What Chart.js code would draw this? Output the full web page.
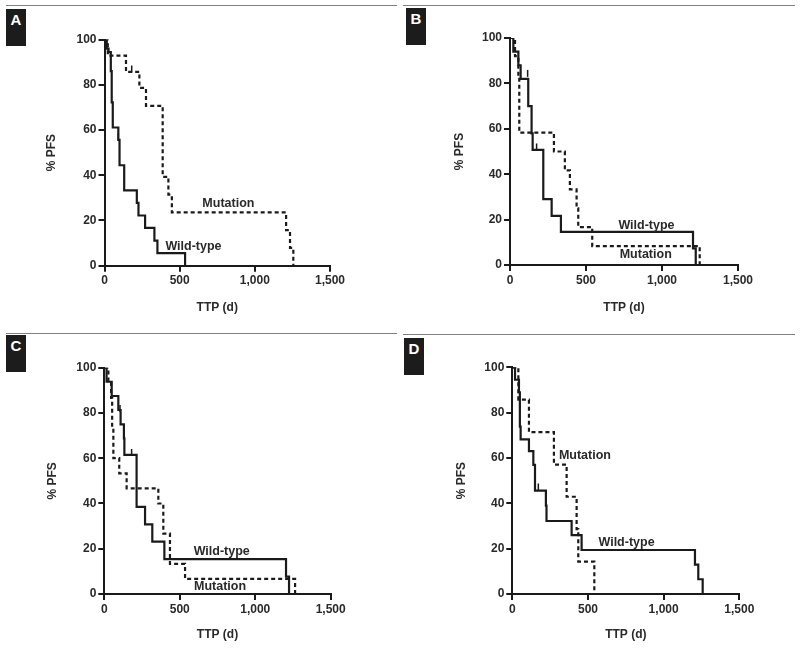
<!DOCTYPE html>
<html>
<head>
<meta charset="utf-8">
<script src="https://cdn.jsdelivr.net/npm/chart.js@4.4.1/dist/chart.umd.min.js"></script>
<style>
  body { margin: 0; background: #fff; width: 800px; height: 648px; position: relative; overflow: hidden;
         font-family: "Liberation Sans", Arial, sans-serif; }
  canvas { position: absolute; }
  .rule { position: absolute; height: 1px; background: #808080; }
  .tag { position: absolute; width: 20px; height: 37px; background: #1c1c1c; color: #fff;
         font-weight: bold; font-size: 15px; text-align: center; line-height: 20px; padding-top: 1px; box-sizing: border-box; }
</style>
</head>
<body>
<div class="rule" style="left:6px;top:5px;width:391px"></div>
<div class="rule" style="left:403px;top:5px;width:392px"></div>
<div class="rule" style="left:6px;top:333px;width:391px"></div>
<div class="rule" style="left:403px;top:334px;width:392px"></div>
<div class="tag" style="left:6px;top:9px">A</div>
<div class="tag" style="left:406px;top:8px">B</div>
<div class="tag" style="left:6px;top:335px">C</div>
<div class="tag" style="left:404px;top:338px">D</div>

<canvas id="chartA" width="400" height="320" style="left:0;top:0"></canvas>
<canvas id="chartB" width="400" height="320" style="left:400px;top:0"></canvas>
<canvas id="chartC" width="400" height="328" style="left:0;top:320px"></canvas>
<canvas id="chartD" width="400" height="328" style="left:400px;top:320px"></canvas>

<script>
// axis ticks
const xTicks = [0, 500, 1000, 1500];
const xTickLabels = ["0", "500", "1,000", "1,500"];
const yTicks = [0, 20, 40, 60, 80, 100];

// panel A (days, % PFS)
const aWildT = [0, 15, 27, 42, 48, 55, 92, 100, 131, 215, 226, 270, 332, 352, 536];
const aWildS = [100, 96, 94.4, 86, 72.2, 61.1, 55.6, 44.4, 33.3, 27.8, 22.2, 16.7, 11.1, 5.6, 0];
const aMutT = [0, 22, 143, 232, 276, 387, 425, 448, 1208, 1234, 1256];
const aMutS = [100, 92.9, 85.7, 78.6, 70.7, 39.3, 31.4, 23.6, 15.7, 7.9, 0];
const aCensT = [92, 181];
const aCensS = [57, 87];

// panel B
const bWildT = [0, 22, 55, 70, 120, 142, 149, 219, 274, 335, 1204, 1222];
const bWildS = [100, 94, 88, 82, 70, 58, 50.7, 29, 21.6, 14.6, 7.3, 0];
const bMutT = [0, 33, 55, 61, 289, 361, 394, 438, 449, 541, 1248];
const bMutS = [100, 92, 83, 58.3, 50, 41.7, 33.3, 25, 16.7, 8.3, 0];
const bCensT = [116, 175];
const bCensS = [84.4, 52];

// panel C
const cWildT = [0, 15, 49, 93, 108, 130, 133, 214, 270, 318, 398, 1204, 1224];
const cWildS = [100, 93.8, 87.5, 81.3, 75, 68.8, 61.5, 38.5, 30.8, 23.1, 15.4, 7.7, 0];
const cMutT = [0, 27, 45, 52, 60, 99, 148, 358, 391, 435, 535, 1264];
const cMutS = [100, 93.3, 86.7, 73.3, 60, 53.3, 46.7, 40, 26.7, 13.3, 6.7, 0];
const cCensT = [104, 181];
const cCensS = [82, 62.5];

// panel D
const dWildT = [0, 18, 44, 50, 55, 110, 139, 150, 222, 226, 392, 458, 1207, 1229, 1258];
const dWildS = [100, 94.5, 89, 73.8, 68.2, 63, 57, 45.6, 39, 32.2, 26, 19.4, 13, 6.5, 0];
const dMutT = [0, 40, 110, 275, 359, 425, 436, 542];
const dMutS = [100, 85.7, 71.4, 57.1, 42.9, 28.6, 14.3, 0];
const dCensT = [172];
const dCensS = [47.2];

const ink = "#1a1a1a";
const textCol = "#2a2a2a";
const font12 = { family: "'Liberation Sans', Arial, sans-serif", size: 12, weight: "bold" };

const pts = (t, s) => t.map((v, i) => ({ x: v, y: s[i] }));

// curve label plugin
const curveLabels = {
  id: "curveLabels",
  afterDatasetsDraw(chart, args, opts) {
    const { ctx, scales: { x, y } } = chart;
    ctx.save();
    ctx.font = "bold 12.5px 'Liberation Sans', Arial, sans-serif";
    ctx.fillStyle = textCol;
    ctx.textAlign = "center";
    ctx.textBaseline = "middle";
    (opts.items || []).forEach(it => {
      ctx.fillText(it.text, x.getPixelForValue(it.t), y.getPixelForValue(it.s));
    });
    ctx.restore();
  }
};

function makePanel(id, p) {
  const W = p.W, H = p.H;
  const padL = p.yTitleX - 7.2;
  const padB = H - (p.xTitleY + 7.2);
  const yWidth = p.l - padL;
  const xHeight = H - padB - p.b;
  new Chart(document.getElementById(id), {
    type: "line",
    data: {
      datasets: [
        { data: pts(p.wildT, p.wildS), borderColor: ink, borderWidth: 2.2, stepped: "before",
          pointRadius: 0, fill: false },
        { data: pts(p.mutT, p.mutS), borderColor: ink, borderWidth: 2.2, stepped: "before",
          borderDash: [4, 3], pointRadius: 0, fill: false },
        // censored observations
        { data: pts(p.censT, p.censS), showLine: false, pointStyle: "line", rotation: 90,
          pointRadius: 3.5, pointBorderWidth: 1.5, pointBorderColor: ink, borderColor: ink }
      ]
    },
    options: {
      responsive: false,
      animation: false,
      layout: { padding: { left: padL, right: W - p.r, top: p.t, bottom: padB } },
      plugins: {
        legend: { display: false },
        tooltip: { enabled: false },
        curveLabels: { items: p.labels }
      },
      scales: {
        x: {
          type: "linear", min: 0, max: 1500,
          afterFit(s) { s.height = xHeight; },
          afterBuildTicks(s) { s.ticks = xTicks.map(v => ({ value: v })); },
          ticks: { callback: v => xTickLabels[xTicks.indexOf(v)], color: textCol, font: font12,
                   padding: 2, maxRotation: 0 },
          grid: { drawOnChartArea: false, tickLength: 6, color: ink, lineWidth: 2 },
          border: { display: true, color: ink, width: 2 },
          title: { display: true, text: "TTP (d)", color: textCol, font: font12, padding: 0 }
        },
        y: {
          type: "linear", min: 0, max: 100,
          afterFit(s) { s.width = yWidth; },
          afterBuildTicks(s) { s.ticks = yTicks.map(v => ({ value: v })); },
          ticks: { color: textCol, font: font12, padding: 2 },
          grid: { drawOnChartArea: false, tickLength: 6, color: ink, lineWidth: 2 },
          border: { display: true, color: ink, width: 2 },
          title: { display: true, text: "% PFS", color: textCol, font: font12, padding: 0 }
        }
      }
    },
    plugins: [curveLabels]
  });
}

makePanel("chartA", { W: 400, H: 320, l: 104.5, r: 330, t: 39.5, b: 265.7, yTitleX: 52, xTitleY: 308,
  wildT: aWildT, wildS: aWildS, mutT: aMutT, mutS: aMutS, censT: aCensT, censS: aCensS,
  labels: [{ text: "Mutation", t: 824, s: 27.5 }, { text: "Wild-type", t: 592, s: 8.4 }] });

makePanel("chartB", { W: 400, H: 320, l: 110, r: 338, t: 38, b: 265, yTitleX: 60, xTitleY: 308,
  wildT: bWildT, wildS: bWildS, mutT: bMutT, mutS: bMutS, censT: bCensT, censS: bCensS,
  labels: [{ text: "Wild-type", t: 898, s: 17.6 }, { text: "Mutation", t: 893, s: 4.4 }] });

makePanel("chartC", { W: 400, H: 328, l: 104.3, r: 330.7, t: 47.7, b: 274, yTitleX: 53, xTitleY: 315,
  wildT: cWildT, wildS: cWildS, mutT: cMutT, mutS: cMutS, censT: cCensT, censS: cCensS,
  labels: [{ text: "Wild-type", t: 778, s: 18.7 }, { text: "Mutation", t: 767, s: 3.2 }] });

makePanel("chartD", { W: 400, H: 328, l: 112.3, r: 339.3, t: 47.3, b: 274, yTitleX: 62, xTitleY: 315,
  wildT: dWildT, wildS: dWildS, mutT: dMutT, mutS: dMutS, censT: dCensT, censS: dCensS,
  labels: [{ text: "Mutation", t: 480, s: 60.9 }, { text: "Wild-type", t: 755, s: 22.6 }] });
</script>
</body>
</html>
